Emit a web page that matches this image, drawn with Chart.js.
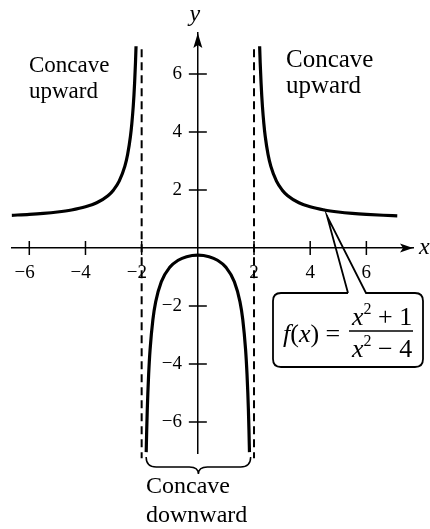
<!DOCTYPE html>
<html lang="en">
<head>
    <meta charset="UTF-8">
    <title>Concavity of f(x)</title>
    <script src="https://cdn.jsdelivr.net/npm/chart.js"></script>
    <style>
        body { margin: 0; background: #fff; }
        .wrap { width: 430px; height: 529px; }
    </style>
</head>
<body>
    <div class="wrap"><canvas id="curveChart"></canvas></div>
    <script>
        // values
        const leftX = [-6.63, -6, -5.5, -5, -4.5, -4, -3.6, -3.2, -3, -2.8, -2.6, -2.5, -2.4, -2.35, -2.3, -2.275, -2.25, -2.22, -2.2];
        const leftY = [1.125, 1.156, 1.19, 1.238, 1.308, 1.417, 1.558, 1.801, 2.0, 2.302, 2.812, 3.222, 3.841, 4.284, 4.876, 5.253, 5.706, 6.386, 6.952];
        const rightX = [2.2, 2.22, 2.25, 2.275, 2.3, 2.35, 2.4, 2.5, 2.6, 2.8, 3, 3.2, 3.6, 4, 4.5, 5, 5.5, 6, 6.6, 7.1];
        const rightY = [6.952, 6.386, 5.706, 5.253, 4.876, 4.284, 3.841, 3.222, 2.812, 2.302, 2.0, 1.801, 1.558, 1.417, 1.308, 1.238, 1.19, 1.156, 1.126, 1.108];
        const middleX = [-1.838, -1.82, -1.8, -1.78, -1.75, -1.7, -1.6, -1.5, -1.3, -1.0, -0.7, -0.4, 0, 0.4, 0.7, 1.0, 1.3, 1.5, 1.6, 1.7, 1.75, 1.78, 1.8, 1.82, 1.838];
        const middleY = [-7.04, -6.272, -5.579, -5.013, -4.333, -3.505, -2.472, -1.857, -1.165, -0.667, -0.425, -0.302, -0.25, -0.302, -0.425, -0.667, -1.165, -1.857, -2.472, -3.505, -4.333, -5.013, -5.579, -6.272, -7.04];
        const asymptoteX = [-2, 2];
        const asymptoteY = [6.85, -7.25];

        const xTicks = [-6, -4, -2, 2, 4, 6];
        const xTickLabels = ['\u22126', '\u22124', '\u22122', '2', '4', '6'];
        const yTicks = [-6, -4, -2, 2, 4, 6];
        const yTickLabels = ['\u22126', '\u22124', '\u22122', '2', '4', '6'];

        const SERIF = '"Liberation Serif", "DejaVu Serif", serif';

        function toPoints(xs, ys) {
            return xs.map((x, i) => ({ x: x, y: ys[i] }));
        }

        const curveStyle = {
            showLine: true,
            borderColor: '#000',
            borderWidth: 3.2,
            pointRadius: 0,
            cubicInterpolationMode: 'monotone',
            fill: false
        };

        const datasets = [
            Object.assign({ label: 'left', data: toPoints(leftX, leftY) }, curveStyle),
            Object.assign({ label: 'middle', data: toPoints(middleX, middleY) }, curveStyle),
            Object.assign({ label: 'right', data: toPoints(rightX, rightY) }, curveStyle)
        ];
        asymptoteX.forEach(ax => {
            datasets.push({
                label: 'x = ' + ax,
                data: asymptoteY.map(y => ({ x: ax, y: y })),
                showLine: true,
                borderColor: '#000',
                borderWidth: 2,
                borderDash: [8, 5],
                pointRadius: 0,
                clip: false
            });
        });

        // cross ticks, arrows, labels and the callout
        const decorations = {
            id: 'decorations',
            afterDraw(chart) {
                const ctx = chart.ctx;
                const xs = chart.scales.x, ys = chart.scales.y;
                const ox = xs.getPixelForValue(0), oy = ys.getPixelForValue(0);
                const area = chart.chartArea;
                ctx.save();
                ctx.strokeStyle = '#000';
                ctx.fillStyle = '#000';
                ctx.lineWidth = 1.5;

                // tick marks crossing the axes
                ctx.beginPath();
                xTicks.forEach(v => {
                    const px = xs.getPixelForValue(v);
                    ctx.moveTo(px, oy - 7); ctx.lineTo(px, oy + 7);
                });
                yTicks.forEach(v => {
                    const py = ys.getPixelForValue(v);
                    ctx.moveTo(ox - 9, py); ctx.lineTo(ox + 9, py);
                });
                ctx.stroke();

                // arrow heads
                const xr = area.right;
                ctx.beginPath();
                ctx.moveTo(xr, oy);
                ctx.lineTo(xr - 13, oy - 4.5);
                ctx.lineTo(xr - 10, oy);
                ctx.lineTo(xr - 13, oy + 4.5);
                ctx.closePath();
                ctx.fill();
                const yt = area.top;
                ctx.beginPath();
                ctx.moveTo(ox, yt);
                ctx.lineTo(ox - 4.5, yt + 15);
                ctx.lineTo(ox, yt + 12);
                ctx.lineTo(ox + 4.5, yt + 15);
                ctx.closePath();
                ctx.fill();

                // axis names
                ctx.font = 'italic 24px ' + SERIF;
                ctx.textBaseline = 'alphabetic';
                ctx.textAlign = 'center';
                ctx.fillText('y', ox - 3, 21);
                ctx.textAlign = 'left';
                ctx.fillText('x', 419, 254);

                // region labels
                ctx.font = '23px ' + SERIF;
                ctx.fillText('Concave', 29, 72);
                ctx.fillText('upward', 29, 98);
                ctx.font = '25px ' + SERIF;
                ctx.fillText('Concave', 286, 67);
                ctx.fillText('upward', 286, 93);
                ctx.font = '24px ' + SERIF;
                ctx.fillText('Concave', 146, 493);
                ctx.fillText('downward', 146, 522);

                // brace under the middle branch
                const bl = xs.getPixelForValue(-1.84), br = xs.getPixelForValue(1.88);
                const bc = (bl + br) / 2;
                ctx.lineWidth = 1.5;
                ctx.beginPath();
                ctx.moveTo(bl, 457);
                ctx.quadraticCurveTo(bl, 467, bl + 10, 467);
                ctx.lineTo(bc - 9, 467);
                ctx.quadraticCurveTo(bc, 467, bc, 474);
                ctx.quadraticCurveTo(bc, 467, bc + 9, 467);
                ctx.lineTo(br - 10, 467);
                ctx.quadraticCurveTo(br, 467, br, 457);
                ctx.stroke();

                // callout box with pointer
                const tipX = xs.getPixelForValue(4.6), tipY = ys.getPixelForValue(1.1);
                const L = 273, R = 423, T = 293, B = 367, r = 8;
                ctx.lineWidth = 1.8;
                ctx.beginPath();
                ctx.moveTo(348, T);
                ctx.lineTo(L + r, T);
                ctx.quadraticCurveTo(L, T, L, T + r);
                ctx.lineTo(L, B - r);
                ctx.quadraticCurveTo(L, B, L + r, B);
                ctx.lineTo(R - r, B);
                ctx.quadraticCurveTo(R, B, R, B - r);
                ctx.lineTo(R, T + r);
                ctx.quadraticCurveTo(R, T, R - r, T);
                ctx.lineTo(366, T);
                ctx.lineTo(tipX, tipY);
                ctx.lineTo(348, T);
                ctx.stroke();

                // f(x) = (x^2 + 1) / (x^2 - 4)
                function run(parts, x, y) {
                    parts.forEach(p => {
                        ctx.font = p[1];
                        ctx.fillText(p[0], x, y + (p[2] || 0));
                        x += ctx.measureText(p[0]).width;
                    });
                    return x;
                }
                const it = 'italic 26px ' + SERIF, rm = '26px ' + SERIF, sup = '16px ' + SERIF;
                ctx.textAlign = 'left';
                run([['f', it], ['(', rm], ['x', it], [')', rm], [' =', rm]], 283, 342);
                run([['x', it], ['2', sup, -11], [' + 1', rm]], 352, 325);
                run([['x', it], ['2', sup, -11], [' \u2212 4', rm]], 352, 357);
                ctx.lineWidth = 1.5;
                ctx.beginPath();
                ctx.moveTo(349, 331);
                ctx.lineTo(413, 331);
                ctx.stroke();

                ctx.restore();
            }
        };

        new Chart(document.getElementById('curveChart').getContext('2d'), {
            type: 'scatter',
            data: { datasets: datasets },
            options: {
                responsive: true,
                maintainAspectRatio: false,
                animation: false,
                layout: { padding: { left: 10, right: 17, top: 33, bottom: 76 } },
                plugins: { legend: { display: false }, tooltip: { enabled: false } },
                scales: {
                    x: {
                        type: 'linear',
                        position: { y: 0 },
                        min: -6.63,
                        max: 7.66,
                        afterBuildTicks: (scale) => { scale.ticks = xTicks.map(v => ({ value: v })); },
                        grid: { display: false, drawTicks: false },
                        border: { display: true, color: '#000', width: 1.5 },
                        ticks: {
                            color: '#000',
                            padding: 14,
                            maxRotation: 0,
                            autoSkip: false,
                            font: { family: SERIF, size: 19 },
                            // pad negatives so the digit sits under its tick
                            callback: (v, i) => xTickLabels[i] + (xTicks[i] < 0 ? '\u2002' : '')
                        }
                    },
                    y: {
                        type: 'linear',
                        position: { x: 0 },
                        min: -7.07,
                        max: 7.41,
                        afterBuildTicks: (scale) => { scale.ticks = yTicks.map(v => ({ value: v })); },
                        grid: { display: false, drawTicks: false },
                        border: { display: true, color: '#000', width: 1.5 },
                        ticks: {
                            color: '#000',
                            padding: 16,
                            autoSkip: false,
                            font: { family: SERIF, size: 19 },
                            // the centred axis ignores padding, so a trailing space keeps labels off the ticks
                            callback: (v, i) => yTickLabels[i] + '\u2002\u2004'
                        }
                    }
                }
            },
            plugins: [decorations]
        });
    </script>
</body>
</html>
